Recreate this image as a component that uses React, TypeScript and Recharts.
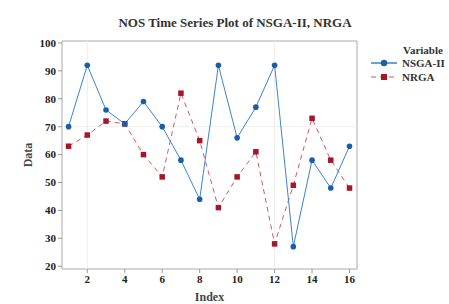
import {
  LineChart,
  Line,
  XAxis,
  YAxis,
  ReferenceArea,
  ReferenceLine,
} from "recharts";

const indexes = [1, 2, 3, 4, 5, 6, 7, 8, 9, 10, 11, 12, 13, 14, 15, 16];
const nsga2 = [70, 92, 76, 71, 79, 70, 58, 44, 92, 66, 77, 92, 27, 58, 48, 63];
const nrga = [63, 67, 72, 71, 60, 52, 82, 65, 41, 52, 61, 28, 49, 73, 58, 48];
const xTicks = [2, 4, 6, 8, 10, 12, 14, 16];
const yTicks = [20, 30, 40, 50, 60, 70, 80, 90, 100];

const data = indexes.map((idx, i) => ({
  index: idx,
  nsga2: nsga2[i],
  nrga: nrga[i],
}));

const font = "'Liberation Serif', 'Times New Roman', serif";
const blue = "#1a5ea8";
const blueLine = "#3d84c6";
const red = "#a8142a";
const redLine = "#cf5a66";

const Square = (props: any) => {
  const { cx, cy } = props;
  if (cx == null || cy == null) return null;
  return <rect x={cx - 2.75} y={cy - 2.75} width={5.5} height={5.5} fill={red} />;
};

export default function App() {
  return (
    <div
      style={{
        position: "absolute",
        left: 0,
        top: 0,
        width: 449,
        height: 304,
        background: "#fff",
        fontFamily: font,
      }}
    >
      <div
        style={{
          position: "absolute",
          left: 0,
          top: 15,
          width: 470,
          textAlign: "center",
          fontWeight: "bold",
          fontSize: 13,
          color: "#333",
        }}
      >
        NOS Time Series Plot of NSGA-II, NRGA
      </div>
      <LineChart
        width={449}
        height={304}
        data={data}
        margin={{ top: 41, right: 92, bottom: 0, left: 0 }}
      >
        <XAxis
          dataKey="index"
          type="number"
          domain={[0.65, 16.4]}
          ticks={xTicks}
          allowDataOverflow
          axisLine={false}
          tickSize={4}
          tickLine={{ stroke: "#999" }}
          tick={{ fontFamily: font, fontSize: 11, fontWeight: "bold", fill: "#222" }}
          height={35}
          label={{
            value: "Index",
            position: "insideBottom",
            offset: 3,
            style: { fontFamily: font, fontSize: 12, fontWeight: "bold", fill: "#444" },
          }}
        />
        <YAxis
          type="number"
          domain={[19, 100.7]}
          ticks={yTicks}
          allowDataOverflow
          axisLine={false}
          tickSize={4}
          tickLine={{ stroke: "#999" }}
          tick={{ fontFamily: font, fontSize: 11, fontWeight: "bold", fill: "#222" }}
          width={62}
          label={{
            value: "Data",
            angle: -90,
            position: "insideLeft",
            offset: 28,
            style: { fontFamily: font, fontSize: 12, fontWeight: "bold", fill: "#444", textAnchor: "middle" },
          }}
        />
        <ReferenceLine x={2} stroke="#eeeeee" />
        <ReferenceLine x={12} stroke="#eeeeee" />
        <ReferenceLine y={70} stroke="#eeeeee" />
        <ReferenceArea
          x1={0.65}
          x2={16.4}
          y1={19}
          y2={100.7}
          fill="none"
          stroke="#aaa"
          strokeWidth={1}
        />
        <Line
          dataKey="nrga"
          stroke={redLine}
          strokeWidth={1}
          strokeDasharray="5 4"
          dot={<Square />}
          isAnimationActive={false}
        />
        <Line
          dataKey="nsga2"
          stroke={blueLine}
          strokeWidth={1}
          dot={{ r: 2.8, fill: blue, stroke: blue, strokeWidth: 0 }}
          isAnimationActive={false}
        />
      </LineChart>
      <svg
        width={90}
        height={50}
        style={{ position: "absolute", left: 368, top: 42 }}
      >
        <text x={35} y={12} fontFamily={font} fontSize={11} fontWeight="bold" fill="#333">
          Variable
        </text>
        <line x1={3} x2={29} y1={21} y2={21} stroke={blueLine} strokeWidth={1.5} />
        <circle cx={16} cy={21} r={3.2} fill={blue} />
        <text x={34} y={25} fontFamily={font} fontSize={11} fontWeight="bold" fill="#333">
          NSGA-II
        </text>
        <line x1={3} x2={29} y1={35} y2={35} stroke={redLine} strokeWidth={1.2} strokeDasharray="5 4" />
        <rect x={13} y={32} width={6} height={6} fill={red} />
        <text x={34} y={39} fontFamily={font} fontSize={11} fontWeight="bold" fill="#333">
          NRGA
        </text>
      </svg>
    </div>
  );
}
